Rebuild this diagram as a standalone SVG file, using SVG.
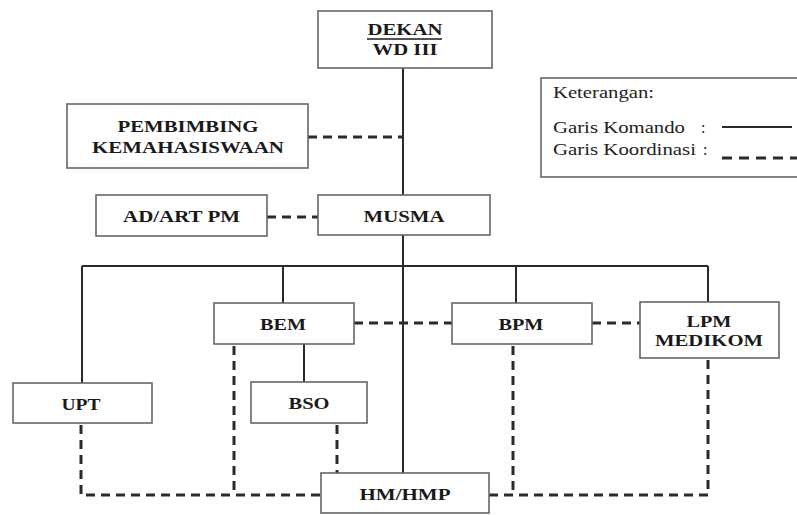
<svg xmlns="http://www.w3.org/2000/svg" width="797" height="515" viewBox="0 0 797 515">
<style>
.box{fill:#fff;stroke:#666;stroke-width:1.6}
.t{font-family:"Liberation Serif","Times New Roman",serif;font-weight:bold;font-size:17px;fill:#1a1a1a;text-anchor:middle}
.lg{font-family:"Liberation Serif","Times New Roman",serif;font-size:16px;fill:#222}
.solid{stroke:#2a2a2a;stroke-width:2;fill:none}
.dash{stroke:#2a2a2a;stroke-width:3;fill:none;stroke-dasharray:9,6}
</style>
<rect width="797" height="515" fill="#fff"/>
<g id="connectors">
<path class="solid" d="M403 68V195M403 235V473M82 266H708M82 266V383M283 266V303M516 266V303M708 266V302M304 344V382"/>
<path class="dash" d="M308 137H402"/>
<path class="dash" d="M267 217H318"/>
<path class="dash" d="M354 323H452"/>
<path class="dash" d="M592 323H640"/>
<path class="dash" d="M234 346V495"/>
<path class="dash" d="M81 425V495H321"/>
<path class="dash" d="M337 425V473"/>
<path class="dash" d="M513 346V495"/>
<path class="dash" d="M489 495H708V360"/>
</g>
<g id="dekan">
<rect class="box" x="318" y="11" width="174" height="57"/>
<text class="t" x="405" y="35" textLength="75" lengthAdjust="spacingAndGlyphs">DEKAN</text>
<line x1="367" y1="39" x2="442" y2="39" stroke="#1a1a1a" stroke-width="1.3"/>
<text class="t" x="405" y="55" textLength="65" lengthAdjust="spacingAndGlyphs">WD III</text>
</g>
<g id="pembimbing">
<rect class="box" x="67" y="104" width="241" height="64"/>
<text class="t" x="188" y="132" textLength="141" lengthAdjust="spacingAndGlyphs">PEMBIMBING</text>
<text class="t" x="188" y="153" textLength="192" lengthAdjust="spacingAndGlyphs">KEMAHASISWAAN</text>
</g>
<g id="adart">
<rect class="box" x="96" y="195" width="171" height="41"/>
<text class="t" x="181.5" y="222" textLength="117" lengthAdjust="spacingAndGlyphs">AD/ART PM</text>
</g>
<g id="musma">
<rect class="box" x="318" y="195" width="172" height="40"/>
<text class="t" x="404" y="222" textLength="81" lengthAdjust="spacingAndGlyphs">MUSMA</text>
</g>
<g id="legend">
<rect class="box" x="541" y="78" width="270" height="99"/>
<text class="lg" x="553" y="98" textLength="101" lengthAdjust="spacingAndGlyphs">Keterangan:</text>
<text class="lg" x="553" y="133" textLength="132" lengthAdjust="spacingAndGlyphs">Garis Komando</text>
<text class="lg" x="701" y="133">:</text>
<line x1="722" y1="127" x2="792" y2="127" stroke="#2a2a2a" stroke-width="2"/>
<text class="lg" x="553" y="155" textLength="143" lengthAdjust="spacingAndGlyphs">Garis Koordinasi</text>
<text class="lg" x="703" y="155">:</text>
<line x1="722" y1="158" x2="797" y2="158" stroke="#2a2a2a" stroke-width="3" stroke-dasharray="10,7"/>
</g>
<g id="bem">
<rect class="box" x="214" y="303" width="140" height="41"/>
<text class="t" x="283" y="330" textLength="46" lengthAdjust="spacingAndGlyphs">BEM</text>
</g>
<g id="bpm">
<rect class="box" x="452" y="303" width="140" height="41"/>
<text class="t" x="521" y="330" textLength="45" lengthAdjust="spacingAndGlyphs">BPM</text>
</g>
<g id="lpm">
<rect class="box" x="640" y="302" width="139" height="56"/>
<text class="t" x="709" y="327" textLength="45" lengthAdjust="spacingAndGlyphs">LPM</text>
<text class="t" x="709" y="346" textLength="108" lengthAdjust="spacingAndGlyphs">MEDIKOM</text>
</g>
<g id="upt">
<rect class="box" x="13" y="383" width="139" height="40"/>
<text class="t" x="81" y="410" textLength="39" lengthAdjust="spacingAndGlyphs">UPT</text>
</g>
<g id="bso">
<rect class="box" x="251" y="382" width="116" height="41"/>
<text class="t" x="309" y="409" textLength="41" lengthAdjust="spacingAndGlyphs">BSO</text>
</g>
<g id="hmhmp">
<rect class="box" x="321" y="473" width="168" height="40"/>
<text class="t" x="405" y="500" textLength="91" lengthAdjust="spacingAndGlyphs">HM/HMP</text>
</g>
</svg>
